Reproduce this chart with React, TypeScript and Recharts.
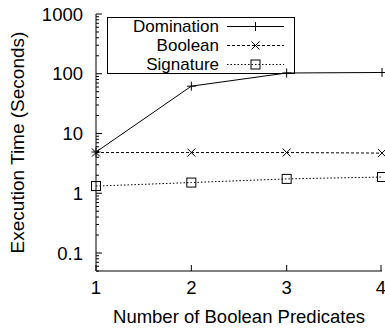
import { LineChart, Line, XAxis, YAxis } from 'recharts';

const predicates = [1, 2, 3, 4];
const domination = [4.9, 62, 103, 105];
const booleanTimes = [4.8, 4.8, 4.8, 4.7];
const signature = [1.32, 1.51, 1.74, 1.87];

const yMajor = [0.1, 1, 10, 100, 1000];
const yTicks = [
  0.05, 0.06, 0.07, 0.08, 0.09, 0.1,
  0.2, 0.3, 0.4, 0.5, 0.6, 0.7, 0.8, 0.9, 1,
  2, 3, 4, 5, 6, 7, 8, 9, 10,
  20, 30, 40, 50, 60, 70, 80, 90, 100,
  200, 300, 400, 500, 600, 700, 800, 900, 1000,
];
const seriesNames = ['Domination', 'Boolean', 'Signature'];

const data = predicates.map((p, i) => ({
  p,
  domination: domination[i],
  boolean: booleanTimes[i],
  signature: signature[i],
}));

const FONT = '"Liberation Sans", Arial, Helvetica, sans-serif';
const FS = 18.5;
const INK = '#000';

const isMajor = (v: number) => yMajor.includes(v);

function Plus({ cx, cy }: any) {
  if (cx == null || cy == null) return null;
  return (
    <g stroke={INK} strokeWidth={1}>
      <line x1={cx - 4.5} y1={cy} x2={cx + 4.5} y2={cy} />
      <line x1={cx} y1={cy - 4.5} x2={cx} y2={cy + 4.5} />
    </g>
  );
}

function Cross({ cx, cy }: any) {
  if (cx == null || cy == null) return null;
  return (
    <g stroke={INK} strokeWidth={1}>
      <line x1={cx - 4} y1={cy - 4} x2={cx + 4} y2={cy + 4} />
      <line x1={cx - 4} y1={cy + 4} x2={cx + 4} y2={cy - 4} />
    </g>
  );
}

function Square({ cx, cy }: any) {
  if (cx == null || cy == null) return null;
  return <rect x={cx - 4.5} y={cy - 4.5} width={9} height={9} fill="none" stroke={INK} strokeWidth={1} />;
}

// left axis: text x = axis x - tickMargin (tickSize 0)
function LeftTick({ x, y, payload }: any) {
  const v = payload.value;
  const ax = x + 8;
  const major = isMajor(v);
  return (
    <g>
      <line x1={ax} y1={y} x2={ax + (major ? 6 : 3)} y2={y} stroke={INK} strokeWidth={1} />
      {major && (
        <text x={x - 5} y={y} textAnchor="end" dominantBaseline="central" fontSize={FS} fontFamily={FONT} fill={INK}>
          {String(v)}
        </text>
      )}
    </g>
  );
}

function RightTick({ x, y, payload }: any) {
  const major = isMajor(payload.value);
  return <line x1={x} y1={y} x2={x - (major ? 6 : 3)} y2={y} stroke={INK} strokeWidth={1} />;
}

function BottomTick({ x, y, payload }: any) {
  const ay = y - 8;
  return (
    <g>
      <line x1={x} y1={ay} x2={x} y2={ay - 6} stroke={INK} strokeWidth={1} />
      <text x={x} y={ay + 23} textAnchor="middle" fontSize={FS} fontFamily={FONT} fill={INK}>
        {payload.value}
      </text>
    </g>
  );
}

function TopTick({ x, y }: any) {
  return <line x1={x} y1={y} x2={x} y2={y + 6} stroke={INK} strokeWidth={1} />;
}

function LegendBox() {
  const rows = [
    { name: seriesNames[0], dash: undefined, Mark: Plus },
    { name: seriesNames[1], dash: '3 2', Mark: Cross },
    { name: seriesNames[2], dash: '1.5 2', Mark: Square },
  ];
  return (
    <svg width={385} height={330} style={{ position: 'absolute', left: 0, top: 0, pointerEvents: 'none' }}>
      <rect x={107.5} y={17.5} width={187} height={56} fill="none" stroke={INK} strokeWidth={1} />
      {rows.map((r, i) => {
        const cy = 26.5 + i * 19;
        return (
          <g key={r.name}>
            <text x={219} y={cy} textAnchor="end" dominantBaseline="central" fontSize={17} fontFamily={FONT} fill={INK}>
              {r.name}
            </text>
            <line x1={227} y1={cy} x2={284} y2={cy} stroke={INK} strokeWidth={1} strokeDasharray={r.dash} />
            <r.Mark cx={255.5} cy={cy} />
          </g>
        );
      })}
    </svg>
  );
}

export default function App() {
  return (
    <div style={{ position: 'absolute', left: 0, top: 0, width: 385, height: 330, background: '#fff' }}>
      <LineChart
        width={385}
        height={330}
        data={data}
        margin={{ top: 14, right: 3, left: 0, bottom: 0 }}
        style={{ fontFamily: FONT }}
      >
        <XAxis
          xAxisId="b"
          dataKey="p"
          type="number"
          domain={[1, 4]}
          ticks={predicates}
          height={59}
          tickSize={0}
          tickMargin={8}
          axisLine={{ stroke: INK, strokeWidth: 1 }}
          tick={<BottomTick />}
          label={{ value: 'Number of Boolean Predicates', position: 'insideBottom', offset: 7, fontSize: FS, fill: INK, fontFamily: FONT }}
        />
        <XAxis
          xAxisId="t"
          orientation="top"
          dataKey="p"
          type="number"
          domain={[1, 4]}
          ticks={predicates}
          height={0}
          tickSize={0}
          tickMargin={0}
          axisLine={{ stroke: INK, strokeWidth: 1 }}
          tick={<TopTick />}
        />
        <YAxis
          yAxisId="l"
          scale="log"
          domain={[0.05, 1000]}
          allowDataOverflow
          ticks={yTicks}
          interval={0}
          width={96}
          tickSize={0}
          tickMargin={8}
          axisLine={{ stroke: INK, strokeWidth: 1 }}
          tick={<LeftTick />}
          label={{ value: 'Execution Time (Seconds)', angle: -90, position: 'insideLeft', offset: 17, fontSize: 19, fill: INK, fontFamily: FONT, style: { textAnchor: 'middle' } }}
        />
        <YAxis
          yAxisId="r"
          orientation="right"
          scale="log"
          domain={[0.05, 1000]}
          allowDataOverflow
          ticks={yTicks}
          interval={0}
          width={0}
          tickSize={0}
          tickMargin={0}
          axisLine={{ stroke: INK, strokeWidth: 1 }}
          tick={<RightTick />}
        />
        <Line xAxisId="b" yAxisId="l" type="linear" dataKey="domination" name={seriesNames[0]} stroke={INK} strokeWidth={1} dot={<Plus />} isAnimationActive={false} />
        <Line xAxisId="b" yAxisId="l" type="linear" dataKey="boolean" name={seriesNames[1]} stroke={INK} strokeWidth={1} strokeDasharray="3 2" dot={<Cross />} isAnimationActive={false} />
        <Line xAxisId="b" yAxisId="l" type="linear" dataKey="signature" name={seriesNames[2]} stroke={INK} strokeWidth={1} strokeDasharray="1.5 2" dot={<Square />} isAnimationActive={false} />
      </LineChart>
      <LegendBox />
    </div>
  );
}
